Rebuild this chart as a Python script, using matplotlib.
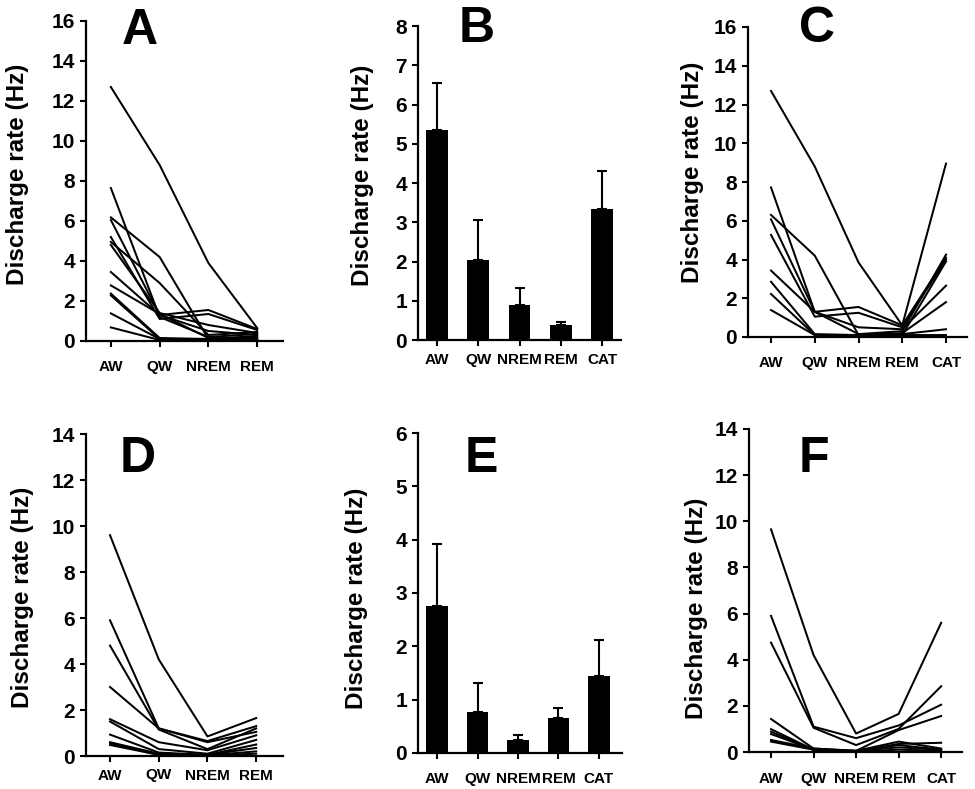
import matplotlib
matplotlib.use('Agg')
import matplotlib.pyplot as plt
import numpy as np

plt.rcParams['font.family'] = ['Liberation Sans', 'DejaVu Sans']
plt.rcParams['font.weight'] = 'bold'

# ---------------- data ----------------
states4 = ['AW', 'QW', 'NREM', 'REM']
states5 = ['AW', 'QW', 'NREM', 'REM', 'CAT']

# Panel A: individual neurons (AW, QW, NREM, REM)
a_lines = [
    [12.7, 8.8, 3.9, 0.65],
    [7.65, 1.2, 0.2, 0.35],
    [6.18, 4.2, 0.1, 0.2],
    [6.05, 1.3, 1.55, 0.6],
    [5.2, 1.1, 1.35, 0.55],
    [4.95, 2.9, 0.3, 0.45],
    [4.8, 1.4, 0.8, 0.4],
    [3.45, 1.3, 0.5, 0.3],
    [2.78, 1.35, 0.15, 0.1],
    [2.37, 0.15, 0.1, 0.25],
    [2.28, 0.1, 0.05, 0.15],
    [1.38, 0.1, 0.05, 0.1],
    [0.68, 0.05, 0.02, 0.05],
]

# Panel B: mean and upper error (AW, QW, NREM, REM, CAT)
b_means = [5.35, 2.05, 0.9, 0.38, 3.35]
b_sem = [1.2, 1.0, 0.43, 0.07, 0.95]

# Panel C: neurons with cataplexy (AW, QW, NREM, REM, CAT)
c_lines = [
    [12.7, 8.8, 3.85, 0.6, 8.95],
    [7.72, 1.3, 0.15, 0.3, 4.25],
    [6.3, 4.2, 0.1, 0.1, 3.9],
    [6.07, 1.3, 1.55, 0.6, 4.1],
    [5.27, 1.05, 1.25, 0.5, 4.0],
    [3.43, 1.3, 0.5, 0.4, 2.65],
    [2.85, 0.15, 0.1, 0.2, 1.8],
    [2.22, 0.1, 0.05, 0.15, 0.4],
    [1.39, 0.1, 0.05, 0.1, 0.1],
]

# Panel D: individual neurons (AW, QW, NREM, REM)
d_lines = [
    [9.6, 4.2, 0.85, 1.65],
    [5.9, 1.2, 0.65, 1.3],
    [4.8, 1.15, 0.3, 1.2],
    [3.0, 1.2, 0.6, 1.05],
    [1.6, 0.6, 0.25, 0.9],
    [1.5, 0.3, 0.1, 0.7],
    [0.93, 0.15, 0.05, 0.5],
    [0.6, 0.1, 0.05, 0.35],
    [0.55, 0.05, 0.03, 0.2],
    [0.48, 0.05, 0.02, 0.1],
]

# Panel E: mean and upper error (AW, QW, NREM, REM, CAT)
e_means = [2.75, 0.77, 0.25, 0.65, 1.45]
e_sem = [1.17, 0.54, 0.08, 0.2, 0.67]

# Panel F: neurons with cataplexy (AW, QW, NREM, REM, CAT)
f_lines = [
    [9.65, 4.2, 0.8, 1.65, 5.6],
    [5.9, 1.1, 0.6, 1.15, 2.05],
    [4.74, 1.05, 0.3, 1.0, 2.85],
    [1.43, 0.15, 0.05, 0.95, 1.56],
    [0.99, 0.1, 0.05, 0.45, 0.15],
    [0.88, 0.1, 0.03, 0.35, 0.4],
    [0.78, 0.1, 0.03, 0.3, 0.1],
    [0.52, 0.15, 0.05, 0.2, 0.1],
    [0.45, 0.1, 0.02, 0.1, 0.05],
]

ylabel = 'Discharge rate (Hz)'

# ---------------- figure ----------------
W, H = 975, 789
fig = plt.figure(figsize=(W / 100, H / 100), dpi=100)


def px_axes(l, r, t, b):
    return fig.add_axes([l / W, 1 - b / H, (r - l) / W, (b - t) / H])


def style(ax, ymax, ystep, xlim, labels, xpad):
    for s in ('top', 'right'):
        ax.spines[s].set_visible(False)
    for s in ('left', 'bottom'):
        ax.spines[s].set_linewidth(1.6)
    ax.set_ylim(0, ymax)
    ax.set_yticks(np.arange(0, ymax + ystep / 2, ystep))
    ax.set_xlim(*xlim)
    ax.set_xticks(np.arange(1, len(labels) + 1))
    ax.set_xticklabels(labels)
    ax.tick_params(axis='y', direction='out', length=4.5, width=1.5,
                   labelsize=15, pad=3.5)
    ax.tick_params(axis='x', direction='out', length=4.5, width=1.5,
                   labelsize=11, pad=xpad)
    for t in ax.get_xticklabels() + ax.get_yticklabels():
        t.set_fontweight('bold')


def draw_lines(ax, lines, labels):
    x = np.arange(1, len(labels) + 1)
    for row in lines:
        ax.plot(x, row, color='black', lw=1.45, clip_on=False, zorder=3)


def draw_bars(ax, means, sem, labels):
    x = np.arange(1, len(labels) + 1)
    ax.bar(x, means, width=0.53, color='black', zorder=2)
    ax.errorbar(x, means, yerr=[np.zeros(len(sem)), sem], fmt='none',
                ecolor='black', elinewidth=1.5, capsize=3.5, capthick=1.5,
                zorder=3)


# A
axA = px_axes(86, 283, 21, 341)
draw_lines(axA, a_lines, states4)
style(axA, 16, 2, (0.49, 4.53), states4, 9)
# B
axB = px_axes(418, 621, 26, 340)
draw_bars(axB, b_means, b_sem, states5)
style(axB, 8, 1, (0.54, 5.46), states5, 4.5)
# C
axC = px_axes(748, 967, 27, 337)
draw_lines(axC, c_lines, states5)
style(axC, 16, 2, (0.474, 5.48), states5, 9)
# D
axD = px_axes(86, 283, 434, 756)
draw_lines(axD, d_lines, states4)
style(axD, 14, 2, (0.507, 4.55), states4, 4.5)
# E
axE = px_axes(418, 622, 433, 753)
draw_bars(axE, e_means, e_sem, states5)
style(axE, 6, 1, (0.53, 5.57), states5, 9)
# F
axF = px_axes(749, 962, 429, 752)
draw_lines(axF, f_lines, states5)
style(axF, 14, 2, (0.482, 5.49), states5, 10)

# y labels (pixel centres)
for (cx, cy) in [(18, 174), (362, 175), (693, 172),
                 (23, 597), (356, 598), (697, 608)]:
    fig.text(cx / W, 1 - cy / H, ylabel, rotation=90, ha='center',
             va='center', fontsize=17.5, fontweight='bold')

# panel letters (baseline positions in pixels)
for (letter, cx, by) in [('A', 140, 44), ('B', 477, 42), ('C', 817, 42),
                         ('D', 138, 472), ('E', 481, 472), ('F', 814, 472)]:
    fig.text(cx / W, 1 - by / H, letter, ha='center', va='baseline',
             fontsize=36, fontweight='bold')

fig.savefig('out.png', dpi=100)
